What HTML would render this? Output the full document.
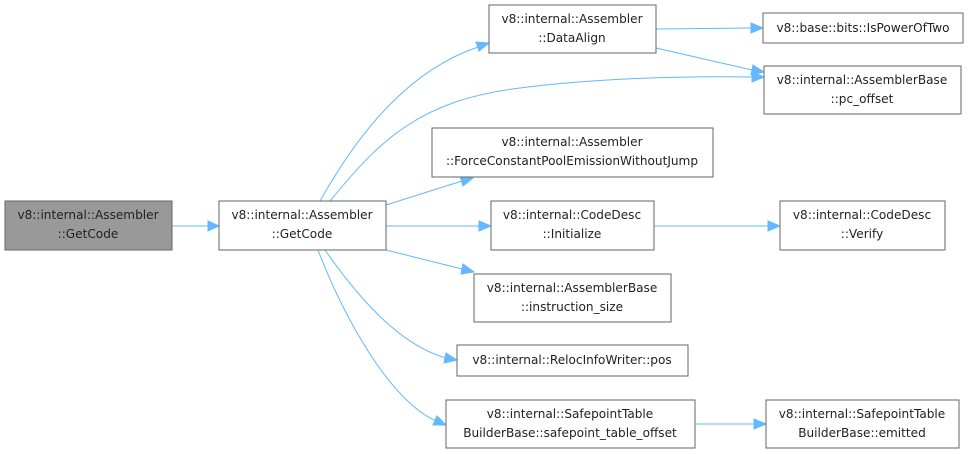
<!DOCTYPE html>
<html><head><style>
html,body{margin:0;padding:0;background:#fff;}
svg{display:block;}
text{font-family:"DejaVu Sans","Liberation Sans",sans-serif;font-size:12.1px;fill:#222;text-anchor:middle;}
.b{fill:#fff;stroke:#666;stroke-width:1;}
.e{fill:none;stroke:#63b8ff;stroke-width:1;}
.a{fill:#63b8ff;stroke:#63b8ff;}
</style></head><body>
<svg width="969" height="454" viewBox="0 0 969 454" xmlns="http://www.w3.org/2000/svg">
<path class="e" d="M172,226 L208,226"/><polygon class="a" points="208,221 219,226 208,231"/>
<path class="e" d="M320,201 C360,130 410,70 478,47"/><polygon class="a" points="476,42 489,43 479,51"/>
<path class="e" d="M330,201 C380,140 420,100 520,88 C600,78 680,76 752,77"/><polygon class="a" points="752,72 764,77 752,82"/>
<path class="e" d="M386,205 L462,181"/><polygon class="a" points="460,176 473,178 463,186"/>
<path class="e" d="M386,226 L479,226"/><polygon class="a" points="479,221 491,226 479,231"/>
<path class="e" d="M386,250 L462,269"/><polygon class="a" points="463,264 474,272 461,274"/>
<path class="e" d="M325,250 C360,300 400,345 446,358"/><polygon class="a" points="446,353 457,360 444,363"/>
<path class="e" d="M318,250 C345,320 390,400 436,421"/><polygon class="a" points="437,416 446,425 433,425"/>
<path class="e" d="M656,29 L751,28"/><polygon class="a" points="751,23 763,28 751,33"/>
<path class="e" d="M656,48 L752,70"/><polygon class="a" points="753,65 764,72 751,75"/>
<path class="e" d="M654,226 L768,226"/><polygon class="a" points="768,221 780,226 768,231"/>
<path class="e" d="M695,424 L754,424"/><polygon class="a" points="754,419 766,424 754,429"/>
<rect x="5" y="201" width="167" height="49" fill="#999" stroke="#666"/>
<text x="88" y="219">v8::internal::Assembler</text><text x="88" y="238">::GetCode</text>
<rect class="b" x="219" y="201" width="167" height="49"/>
<text x="302" y="219">v8::internal::Assembler</text><text x="302" y="238">::GetCode</text>
<rect class="b" x="489" y="5" width="167" height="48"/>
<text x="572" y="23">v8::internal::Assembler</text><text x="572" y="42">::DataAlign</text>
<rect class="b" x="763" y="13" width="200" height="30"/>
<text x="863" y="32">v8::base::bits::IsPowerOfTwo</text>
<rect class="b" x="764" y="66" width="197" height="48"/>
<text x="862" y="84">v8::internal::AssemblerBase</text><text x="862" y="103">::pc_offset</text>
<rect class="b" x="432" y="128" width="281" height="49"/>
<text x="572" y="146">v8::internal::Assembler</text><text x="572" y="165">::ForceConstantPoolEmissionWithoutJump</text>
<rect class="b" x="491" y="201" width="163" height="49"/>
<text x="572" y="219">v8::internal::CodeDesc</text><text x="572" y="238">::Initialize</text>
<rect class="b" x="780" y="201" width="165" height="49"/>
<text x="862" y="219">v8::internal::CodeDesc</text><text x="862" y="238">::Verify</text>
<rect class="b" x="474" y="274" width="197" height="48"/>
<text x="572" y="292">v8::internal::AssemblerBase</text><text x="572" y="311">::instruction_size</text>
<rect class="b" x="457" y="345" width="231" height="31"/>
<text x="572" y="364">v8::internal::RelocInfoWriter::pos</text>
<rect class="b" x="446" y="400" width="249" height="48"/>
<text x="570" y="418">v8::internal::SafepointTable</text><text x="570" y="437">BuilderBase::safepoint_table_offset</text>
<rect class="b" x="766" y="400" width="193" height="48"/>
<text x="862" y="418">v8::internal::SafepointTable</text><text x="862" y="437">BuilderBase::emitted</text>
</svg>
</body></html>
